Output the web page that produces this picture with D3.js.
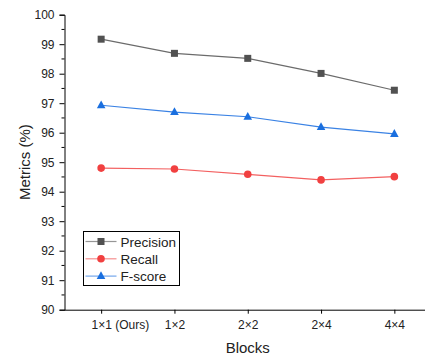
<!DOCTYPE html>
<html>
<head>
<meta charset="utf-8">
<script src="https://cdn.jsdelivr.net/npm/d3@7"></script>
<style>
  body { margin: 0; background: #fff; }
  svg { display: block; font-family: Arial, "Liberation Sans", sans-serif; }
</style>
</head>
<body>
<svg id="chart" width="425" height="357"></svg>
<script>
const blocks = ['1×1 (Ours)', '1×2', '2×2', '2×4', '4×4'];
const precision = [99.17, 98.69, 98.52, 98.01, 97.44];
const recall = [94.80, 94.77, 94.59, 94.40, 94.51];
const fscore = [96.93, 96.70, 96.54, 96.19, 95.96];
const yTicks = [90, 91, 92, 93, 94, 95, 96, 97, 98, 99, 100];

const series = [
  { name: 'Precision', values: precision, color: '#515151', line: '#6b6b6b', shape: 'square' },
  { name: 'Recall', values: recall, color: '#f14040', line: '#f36060', shape: 'circle' },
  { name: 'F-score', values: fscore, color: '#1a6fdf', line: '#3a82e4', shape: 'triangle' },
];

const svg = d3.select('#chart');
const plotLeft = 64.5, plotTop = 14.7, plotBottom = 309.7, plotRight = 431;

const x = d3.scalePoint().domain(blocks).range([plotLeft, plotRight]).padding(0.5);
const y = d3.scaleLinear().domain([90, 100]).range([plotBottom, plotTop]);

// minor y ticks
svg.append('g')
  .selectAll('line')
  .data(d3.range(90.5, 100, 1))
  .enter().append('line')
  .attr('x1', plotLeft - 3).attr('x2', plotLeft)
  .attr('y1', d => y(d)).attr('y2', d => y(d))
  .attr('stroke', '#000');

// y axis
const yAxis = svg.append('g')
  .attr('transform', `translate(${plotLeft},0)`)
  .call(d3.axisLeft(y).tickValues(yTicks).tickSize(5).tickPadding(5).tickFormat(d3.format('d')));
yAxis.select('.domain').attr('stroke', '#000');
yAxis.selectAll('text').attr('font-size', 12).attr('fill', '#222');

// x axis
const xAxis = svg.append('g')
  .attr('transform', `translate(0,${plotBottom})`)
  .call(d3.axisBottom(x).tickSize(4).tickPadding(7));
xAxis.select('.domain').attr('d', `M${plotLeft},0.5H${plotRight}`).attr('stroke', '#000');
xAxis.selectAll('text').attr('font-size', 12).attr('fill', '#222');

// labels like "1×1 (Ours)": keep the "1×1" part centred on its tick
xAxis.selectAll('.tick text').each(function (d) {
  const idx = d.indexOf(' (');
  if (idx < 0) return;
  const t = d3.select(this);
  const w = this.getSubStringLength(0, idx);
  t.attr('text-anchor', 'start').attr('x', -w / 2);
});

// axis titles
svg.append('text')
  .attr('transform', `translate(29.5,${(plotTop + plotBottom) / 2}) rotate(-90)`)
  .attr('text-anchor', 'middle')
  .attr('font-size', 15)
  .attr('fill', '#222')
  .text('Metrics (%)');

svg.append('text')
  .attr('x', x('2×2'))
  .attr('y', 353)
  .attr('text-anchor', 'middle')
  .attr('font-size', 15)
  .attr('fill', '#222')
  .text('Blocks');

function drawMarker(g, shape, color) {
  if (shape === 'square') {
    g.append('rect').attr('x', -3.5).attr('y', -3.5).attr('width', 7).attr('height', 7).attr('fill', color);
  } else if (shape === 'circle') {
    g.append('circle').attr('r', 3.8).attr('fill', color);
  } else {
    g.append('path').attr('d', 'M0,-4.8L4.3,3L-4.3,3Z').attr('fill', color);
  }
}

const line = d3.line().x((d, i) => x(blocks[i])).y(d => y(d));

series.forEach(s => {
  svg.append('path')
    .attr('d', line(s.values))
    .attr('fill', 'none')
    .attr('stroke', s.line)
    .attr('stroke-width', 1.2);
  s.values.forEach((v, i) => {
    const g = svg.append('g').attr('transform', `translate(${x(blocks[i])},${y(v)})`);
    drawMarker(g, s.shape, s.color);
  });
});

// legend
const legend = svg.append('g').attr('transform', 'translate(83.5,231.5)');
legend.append('rect')
  .attr('width', 96).attr('height', 54)
  .attr('fill', '#fff').attr('stroke', '#000').attr('stroke-width', 1);
series.forEach((s, i) => {
  const yy = 10 + i * 17.3;
  legend.append('line')
    .attr('x1', 2).attr('x2', 33).attr('y1', yy).attr('y2', yy)
    .attr('stroke', s.line).attr('stroke-width', 1.2).attr('opacity', 0.7);
  const g = legend.append('g').attr('transform', `translate(17.5,${yy})`);
  drawMarker(g, s.shape, s.color);
  legend.append('text')
    .attr('x', 37).attr('y', yy + 5)
    .attr('font-size', 13.5)
    .attr('fill', '#222')
    .text(s.name);
});
</script>
</body>
</html>
